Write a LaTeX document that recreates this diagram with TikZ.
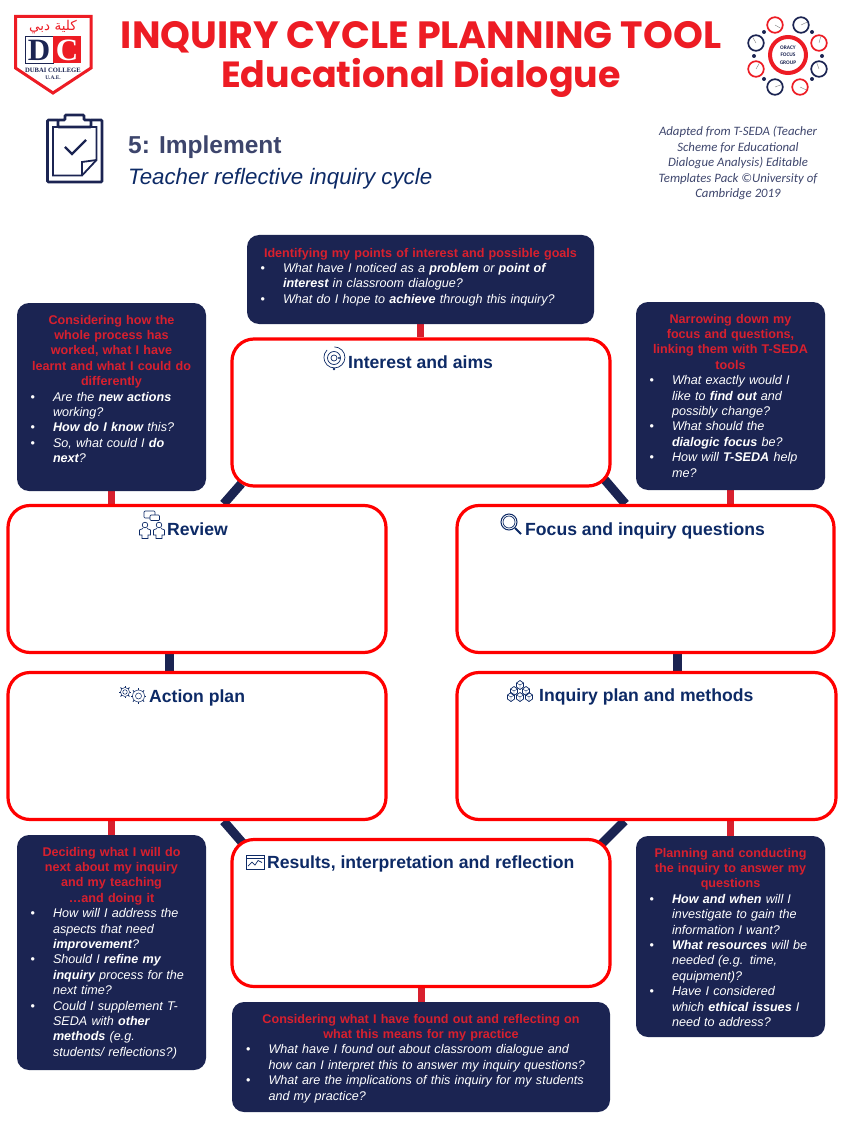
\documentclass[tikz,border=0pt]{standalone}
\usepackage{fontspec}
\setmainfont{Liberation Sans}
\newfontfamily\titlefont{Poppins}
\newfontfamily\notefont{Carlito}
\newfontfamily\arabicfont[Script=Arabic]{DejaVu Sans}
\newfontfamily\crestfont{Liberation Serif}
\TeXXeTstate=1
\usetikzlibrary{backgrounds, calc}
\definecolor{navy}{HTML}{1B2452}
\definecolor{headnavy}{HTML}{0D2A66}
\definecolor{titlered}{HTML}{ED1C24}
\definecolor{headred}{HTML}{D8202E}
\newcommand{\boxhead}[1]{{\centering\bfseries\color{headred}#1\par}}
\newcommand{\boxitem}[1]{{\raggedright\leftskip=0pt\hangindent=22.5pt\hangafter=1\makebox[22.5pt][l]{\textbullet}\itshape #1\par}}
\newcommand{\bi}[1]{{\bfseries #1}}
\tikzset{
  stagebox/.style={draw=red, line width=3.2pt, fill=white, rounded corners=22pt, minimum width=#1, minimum height=147pt, inner sep=0pt},
  infobox/.style={fill=navy, rounded corners=12pt, inner sep=0pt},
  infotext/.style={text=white, anchor=north, inner sep=0pt, font=\fontsize{12.6}{15.4}\selectfont},
  stagehead/.style={anchor=west, inner sep=0pt, text height=13pt, text depth=4pt, text=headnavy, font=\fontsize{17.6}{20}\selectfont\bfseries},
  redlink/.style={draw=headred, line width=7pt},
  navylink/.style={draw=navy, line width=9pt},
  iconline/.style={draw=headnavy, line width=0.7pt},
  iconthick/.style={draw=navy, line width=2.6pt},
}
\begin{document}
\begin{tikzpicture}[x=1pt, y=-1pt]
  \useasboundingbox (0,0) rectangle (845,1131);

  % heading
  \node[inner sep=0pt, text=titlered, font=\fontsize{38}{44}\selectfont\titlefont\bfseries] (title) at (421,37) {INQUIRY CYCLE PLANNING TOOL};
  \node[inner sep=0pt, text=titlered, font=\fontsize{36.4}{40}\selectfont\titlefont\bfseries] (subtitle) at (421,78) {Educational Dialogue};
  \node[anchor=west, inner sep=0pt, text=navy!85!white, font=\fontsize{24.5}{28}\selectfont\bfseries] (phase) at (128,147.5) {5: Implement};
  \node[anchor=west, inner sep=0pt, text=headnavy, font=\fontsize{22.3}{27}\selectfont\itshape] (phasesub) at (128,179) {Teacher reflective inquiry cycle};
  \node[inner sep=0pt, align=center, text=navy!85!white, font=\fontsize{12.8}{15.5}\selectfont\notefont\itshape] (credit) at (738,163)
    {Adapted from T-SEDA (Teacher\\Scheme for Educational\\Dialogue Analysis) Editable\\Templates Pack ©University of\\Cambridge 2019};

  % crest
  \draw[draw=titlered, line width=3pt, fill=white] (15.5,16.5) -- (91,16.5) -- (91,68) -- (53,93) -- (15.5,68) -- cycle;
  \node[inner sep=0pt, text=titlered, font=\fontsize{13.5}{14}\selectfont\arabicfont] (crestar) at (53,27) {\beginR كلية دبي\endR};
  \node[draw=navy, line width=1pt, fill=white, minimum width=28pt, minimum height=27pt, inner sep=0pt, text=navy, font=\fontsize{31}{31}\selectfont\crestfont\bfseries] (crestd) at (39,50) {D};
  \node[fill=titlered, minimum width=28pt, minimum height=27pt, inner sep=0pt, text=white, font=\fontsize{31}{31}\selectfont\crestfont\bfseries] (crestc) at (67,50) {C};
  \node[inner sep=0pt, text=navy, font=\fontsize{6.6}{7}\selectfont\crestfont\bfseries] (crestname) at (53,70) {DUBAI COLLEGE};
  \node[inner sep=0pt, text=navy, font=\fontsize{5.4}{6}\selectfont\crestfont\bfseries] (crestuae) at (53,78) {U.A.E.};

  % oracy mark
  \node[circle, draw=titlered, line width=4pt, minimum size=36pt, inner sep=0pt, align=center, text=navy, font=\fontsize{5.4}{7.3}\selectfont\notefont\bfseries] (oracy) at (788,55) {ORACY\\FOCUS\\GROUP};
  \foreach \px/\py/\pc/\pa in {775/25/titlered/30, 801/25/navy/-25, 819/43/titlered/-75, 819/69/navy/250, 800/87/titlered/25, 775/87/navy/-20, 756/69/titlered/-60, 756/43/navy/240} {
    \draw[draw=\pc, line width=1.7pt, fill=white] (\px,\py) circle (7.8);
    \draw[draw=gray, line width=0.4pt] (\px,\py) -- ++(\pa:6.5);
  }
  \foreach \px/\py in {764/32, 812/32, 822/56, 812/79, 764/79, 754/56}
    \fill[navy] (\px,\py) circle (2);

  % clipboard
  \draw[iconthick, rounded corners=1pt] (58,120) -- (47.5,120) -- (47.5,182) -- (102,182) -- (102,120) -- (91,120);
  \draw[iconthick, rounded corners=1pt] (58,127) -- (58,120) -- (65,120) -- (65,115) -- (84,115) -- (84,120) -- (91,120) -- (91,127) -- cycle;
  \draw[draw=navy, line width=1.8pt] (58,127) -- (53,127) -- (53,175.5) -- (82,175.5) -- (96.5,160) -- (96.5,127) -- (91,127);
  \draw[draw=navy, line width=1.8pt] (82,175.5) -- (82,162) -- (96.5,160);
  \draw[draw=navy, line width=2.4pt] (65,147) -- (72,154) -- (86,140);

  % stages
  \node[stagebox=378pt] (interest) at (421,412.5) {};
  \node[stagebox=378pt] (review) at (197,579) {};
  \node[stagebox=377pt] (focus) at (645.5,579) {};
  \node[stagebox=378pt] (action) at (197,746) {};
  \node[stagebox=379pt] (inquiry) at (646.5,746) {};
  \node[stagebox=378pt] (results) at (421,913) {};

  \node[stagehead] (interesthead) at (348,363.5) {Interest and aims};
  \node[stagehead] (reviewhead) at (167,530.5) {Review};
  \node[stagehead] (focushead) at (525,530.5) {Focus and inquiry questions};
  \node[stagehead] (actionhead) at (149,697.5) {Action plan};
  \node[stagehead] (inquiryhead) at (539,696.5) {Inquiry plan and methods};
  \node[stagehead] (resultshead) at (267,864) {Results, interpretation and reflection};

  % prompts
  \node[infobox, minimum width=347pt, minimum height=89pt] (aimsbox) at (420.5,279.5) {};
  \node[infotext, text width=320pt] (aimstext) at ([yshift=-13pt]aimsbox.north) {
    \boxhead{Identifying my points of interest and possible goals}
    \boxitem{What have I noticed as a \bi{problem} or \bi{point of\newline interest} in classroom dialogue?}
    \boxitem{What do I hope to \bi{achieve} through this inquiry?}};

  \node[infobox, minimum width=189pt, minimum height=188pt] (reviewbox) at (111.5,397) {};
  \node[infotext, text width=162pt] (reviewtext) at ([yshift=-12pt]reviewbox.north) {
    \boxhead{Considering how the\\ whole process has\\ worked, what I have\\ learnt and what I could do\\ differently}
    \boxitem{Are the \bi{new actions}\newline working?}
    \boxitem{\bi{How do I know} this?}
    \boxitem{So, what could I \bi{do}\newline \bi{next}?}};

  \node[infobox, minimum width=189pt, minimum height=188pt] (focusbox) at (730.5,396) {};
  \node[infotext, text width=162pt] (focustext) at ([yshift=-12pt]focusbox.north) {
    \boxhead{Narrowing down my\\ focus and questions,\\ linking them with T-SEDA\\ tools}
    \boxitem{What exactly would I\newline like to \bi{find out} and\newline possibly change?}
    \boxitem{What should the\newline \bi{dialogic focus} be?}
    \boxitem{How will \bi{T-SEDA} help\newline me?}};

  \node[infobox, minimum width=189pt, minimum height=235pt] (actionbox) at (111.5,952.5) {};
  \node[infotext, text width=162pt] (actiontext) at ([yshift=-12pt]actionbox.north) {
    \boxhead{Deciding what I will do\\ next about my inquiry\\ and my teaching\\ …and doing it}
    \boxitem{How will I address the\newline aspects that need\newline \bi{improvement}?}
    \boxitem{Should I \bi{refine my}\newline \bi{inquiry} process for the\newline next time?}
    \boxitem{Could I supplement T-\newline SEDA with \bi{other}\newline \bi{methods} (e.g.\newline students/ reflections?)}};

  \node[infobox, minimum width=189pt, minimum height=201pt] (inquirybox) at (730.5,936.5) {};
  \node[infotext, text width=162pt] (inquirytext) at ([yshift=-12pt]inquirybox.north) {
    \boxhead{Planning and conducting\\ the inquiry to answer my\\ questions}
    \boxitem{\bi{How and when} will I\newline investigate to gain the\newline information I want?}
    \boxitem{\bi{What resources} will be\newline needed (e.g. time,\newline equipment)?}
    \boxitem{Have I considered\newline which \bi{ethical issues} I\newline need to address?}};

  \node[infobox, minimum width=378pt, minimum height=110pt] (resultsbox) at (421,1057) {};
  \node[infotext, text width=350pt] (resultstext) at ([yshift=-12pt]resultsbox.north) {
    \boxhead{Considering what I have found out and reflecting on\\ what this means for my practice}
    \boxitem{What have I found out about classroom dialogue and\newline how can I interpret this to answer my inquiry questions?}
    \boxitem{What are the implications of this inquiry for my students\newline and my practice?}};

  % links
  \begin{scope}[on background layer]
    \draw[navylink] ([shift={(11pt,4pt)}]interest.south west) -- ([xshift=-164pt]review.north east);
    \draw[navylink] ([shift={(-7pt,8pt)}]interest.south east) -- ([xshift=170pt]focus.north west);
    \draw[navylink] ([xshift=-28pt]review.south) -- ([xshift=-28pt]action.north);
    \draw[navylink] ([xshift=32pt]focus.south) -- ([xshift=31pt]inquiry.north);
    \draw[navylink] ([xshift=-164pt]action.south east) -- ([shift={(13pt,-6pt)}]results.north west);
    \draw[navylink] ([xshift=169pt]inquiry.south west) -- ([shift={(-10pt,-6pt)}]results.north east);
    \draw[redlink] (aimsbox.south) -- (aimsbox.south |- interest.north);
    \draw[redlink] (reviewbox.south) -- (reviewbox.south |- review.north);
    \draw[redlink] (focusbox.south) -- (focusbox.south |- focus.north);
    \draw[redlink] (actionbox.north) -- (actionbox.north |- action.south);
    \draw[redlink] (inquirybox.north) -- (inquirybox.north |- inquiry.south);
    \draw[redlink] (resultsbox.north) -- (results.south);
  \end{scope}

  % small icons
  \draw[iconline] (334,358) circle (3) (334,358) circle (6.5);
  \draw[iconline] (327,350) arc (225:-90:10.5);
  \fill[headnavy] (334,369) circle (1.4) (339,358) circle (1.2);

  \foreach \px in {145,159} {
    \draw[iconline] (\px,525) circle (2.8);
    \draw[iconline] (\px-2,528.5) -- (\px-5.5,530) -- (\px-5.5,535) -- (\px-3,535) -- (\px-3,538.5) -- (\px+3,538.5) -- (\px+3,535) -- (\px+5.5,535) -- (\px+5.5,530) -- (\px+2,528.5);
  }
  \draw[iconline, fill=white, rounded corners=1pt] (144,511) rectangle (155,518);
  \draw[iconline, fill=white, rounded corners=1pt] (150,515) rectangle (159.5,520.5);

  \draw[iconline, line width=1pt] (509,522) circle (8);
  \draw[iconline] (509,522) circle (6);
  \draw[iconline, line width=2pt] (515,528) -- (521,534);

  \foreach \gx/\gy/\gr in {125/692/4.5, 138.5/696/6} {
    \draw[iconline, line width=0.5pt] (\gx,\gy) circle (\gr*0.5);
    \draw[iconline, line width=0.5pt] (\gx,\gy) circle (\gr);
    \foreach \ga in {0,45,...,315}
      \draw[draw=headnavy, line width=0.9pt] (\gx,\gy) ++(\ga:\gr) -- ++(\ga:1.8);
  }

  \foreach \hx/\hy in {520/685, 514/691, 526/691, 511/697, 520/697, 529/697} {
    \draw[iconline] (\hx-3.5,\hy-2) -- (\hx,\hy-4.5) -- (\hx+3.5,\hy-2) -- (\hx+3.5,\hy+2) -- (\hx,\hy+4.5) -- (\hx-3.5,\hy+2) -- cycle;
    \draw[draw=headnavy, line width=0.4pt] (\hx-3.5,\hy-2) -- (\hx,\hy) -- (\hx+3.5,\hy-2) (\hx,\hy) -- (\hx,\hy+4.5);
  }

  \draw[iconline] (246,855) rectangle (264,869);
  \draw[iconline] (246,858.5) -- (264,858.5);
  \draw[iconline] (248,866) -- (252,862) -- (255,865) -- (258,860.5) -- (262,862.5);
\end{tikzpicture}
\end{document}
